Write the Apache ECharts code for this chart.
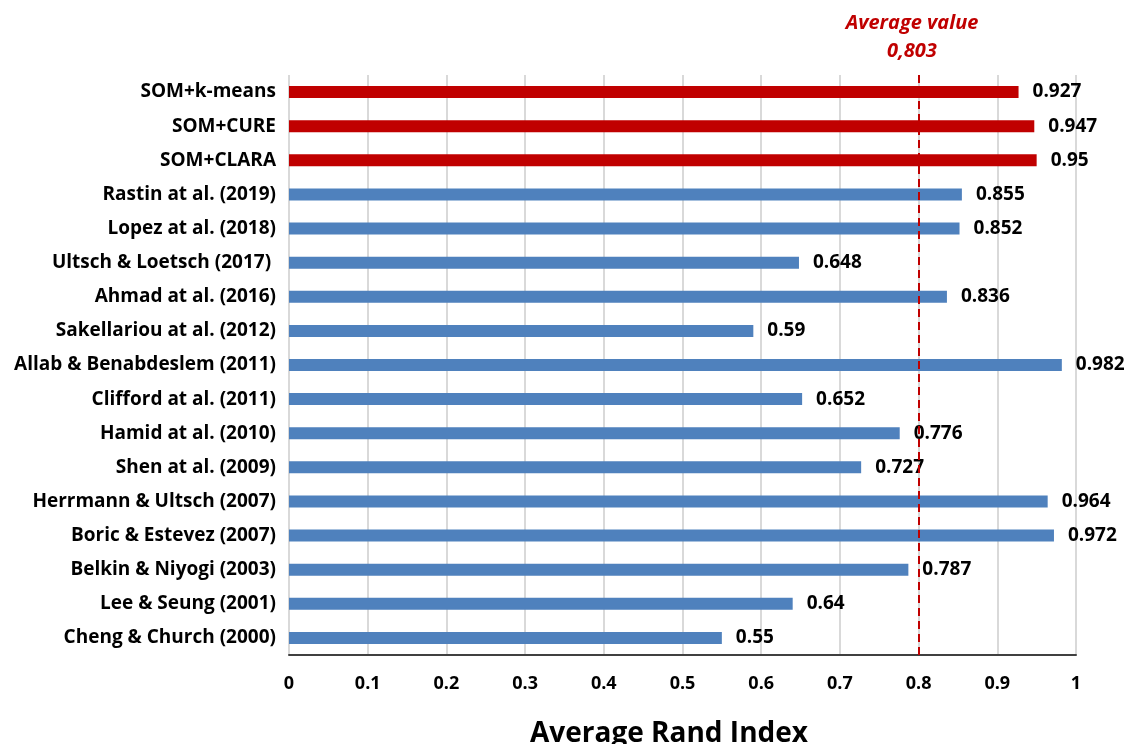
<!DOCTYPE html>
<html>
<head>
<meta charset="utf-8">
<script src="https://cdn.jsdelivr.net/npm/echarts@6/dist/echarts.min.js"></script>
<style>
  html, body { margin: 0; padding: 0; background: #fff; }
  #chart { width: 1131px; height: 744px; }
</style>
</head>
<body>
<div id="chart"></div>
<script>
// listed top to bottom, as in the picture
const methods = [
  'SOM+k-means', 'SOM+CURE', 'SOM+CLARA',
  'Rastin at al. (2019)', 'Lopez at al. (2018)', 'Ultsch & Loetsch (2017) ',
  'Ahmad at al. (2016)', 'Sakellariou at al. (2012)', 'Allab & Benabdeslem (2011)',
  'Clifford at al. (2011)', 'Hamid at al. (2010)', 'Shen at al. (2009)',
  'Herrmann & Ultsch (2007)', 'Boric & Estevez (2007)', 'Belkin & Niyogi (2003)',
  'Lee & Seung (2001)', 'Cheng & Church (2000)'
]
const randIndex = [
  0.927, 0.947, 0.95,
  0.855, 0.852, 0.648,
  0.836, 0.59, 0.982,
  0.652, 0.776, 0.727,
  0.964, 0.972, 0.787,
  0.64, 0.55
]
const somMethods = ['SOM+k-means', 'SOM+CURE', 'SOM+CLARA']
const averageValue = 0.8
const averageLabel = 'Average value\n0,803'
const xTicks = [0, 0.1, 0.2, 0.3, 0.4, 0.5, 0.6, 0.7, 0.8, 0.9, 1]

const FONT = '"Open Sans", "Liberation Sans", sans-serif'
const BLUE = '#4f81bd'
const RED = '#c00000'

const chart = echarts.init(document.getElementById('chart'))
chart.setOption({
  animation: false,
  textStyle: { fontFamily: FONT },
  title: [
    {
      text: averageLabel,
      left: 907, top: 4, textAlign: 'center',
      textStyle: { color: RED, fontSize: 20, fontWeight: 'bold', fontStyle: 'italic', lineHeight: 28, fontFamily: FONT }
    },
    {
      text: 'Average Rand Index',
      left: 664, top: 715, textAlign: 'center',
      textStyle: { color: '#000', fontSize: 28, fontWeight: 'bold', fontFamily: FONT }
    }
  ],
  grid: { left: 289, right: 55, top: 75, bottom: 89, containLabel: false },
  xAxis: {
    type: 'value', min: 0, max: 1, interval: 0.1,
    axisLine: { show: true, lineStyle: { color: '#404040', width: 2 } },
    axisTick: { show: false },
    splitLine: { lineStyle: { color: '#d9d9d9', width: 2 } },
    axisLabel: {
      margin: 20, color: '#000', fontSize: 18, fontWeight: 'bold',
      formatter: v => xTicks.includes(Math.round(v * 10) / 10) ? String(Math.round(v * 10) / 10) : ''
    }
  },
  yAxis: {
    type: 'category', data: methods, inverse: true,
    axisLine: { show: false }, axisTick: { show: false },
    axisLabel: { margin: 13, color: '#000', fontSize: 19, fontWeight: 'bold' }
  },
  series: [{
    type: 'bar',
    barWidth: 12,
    data: randIndex.map((v, i) => ({
      value: v,
      itemStyle: { color: somMethods.includes(methods[i]) ? RED : BLUE }
    })),
    label: {
      show: true, position: 'right', distance: 14,
      color: '#000', fontSize: 19, fontWeight: 'bold',
      formatter: p => String(p.value)
    },
    markLine: {
      silent: true, symbol: 'none', z: 5,
      label: { show: false },
      lineStyle: { color: RED, type: [8, 5], width: 2 },
      data: [{ xAxis: averageValue }]
    }
  }]
})
</script>
</body>
</html>
